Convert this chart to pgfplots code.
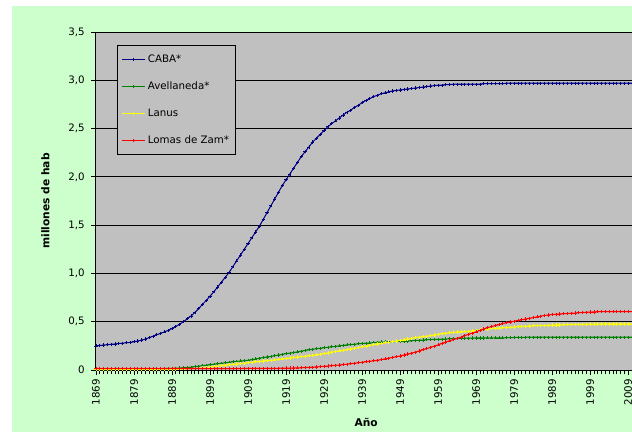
\documentclass[border=0pt]{standalone}
\usepackage{fontspec}
\setmainfont{DejaVu Sans}
\usepackage{pgfplots}
\usepackage{pgfplotstable}
\pgfplotsset{compat=1.18}
\definecolor{bggreen}{RGB}{204,255,204}
\definecolor{plotgrey}{RGB}{192,192,192}
\definecolor{cabacol}{RGB}{0,0,128}
\definecolor{avecol}{RGB}{0,128,0}
\definecolor{lanuscol}{RGB}{255,255,0}
\definecolor{lomascol}{RGB}{255,0,0}
\pgfplotstableread{
year caba avel lanus lomas
1869 0.250 0.010 0.005 0.015
1870 0.254 0.010 0.005 0.015
1871 0.258 0.010 0.005 0.015
1872 0.262 0.010 0.005 0.015
1873 0.266 0.010 0.005 0.015
1874 0.270 0.011 0.006 0.015
1875 0.274 0.011 0.006 0.015
1876 0.278 0.011 0.006 0.015
1877 0.282 0.012 0.006 0.015
1878 0.286 0.012 0.007 0.015
1879 0.292 0.012 0.007 0.015
1880 0.300 0.013 0.007 0.015
1881 0.310 0.013 0.008 0.015
1882 0.320 0.013 0.008 0.015
1883 0.335 0.014 0.008 0.015
1884 0.350 0.014 0.009 0.015
1885 0.365 0.015 0.009 0.015
1886 0.380 0.015 0.009 0.015
1887 0.395 0.016 0.010 0.015
1888 0.410 0.017 0.010 0.015
1889 0.430 0.018 0.010 0.015
1890 0.450 0.019 0.011 0.015
1891 0.475 0.021 0.012 0.015
1892 0.500 0.023 0.012 0.015
1893 0.530 0.025 0.013 0.015
1894 0.560 0.030 0.014 0.015
1895 0.595 0.035 0.015 0.015
1896 0.635 0.040 0.017 0.015
1897 0.680 0.045 0.020 0.015
1898 0.720 0.050 0.025 0.015
1899 0.765 0.055 0.030 0.015
1900 0.810 0.060 0.035 0.015
1901 0.860 0.065 0.040 0.015
1902 0.910 0.070 0.045 0.015
1903 0.960 0.075 0.050 0.015
1904 1.010 0.080 0.054 0.015
1905 1.070 0.085 0.058 0.015
1906 1.130 0.089 0.062 0.015
1907 1.190 0.093 0.066 0.015
1908 1.250 0.097 0.070 0.016
1909 1.310 0.100 0.075 0.016
1910 1.370 0.107 0.080 0.016
1911 1.430 0.115 0.085 0.016
1912 1.490 0.122 0.089 0.016
1913 1.560 0.130 0.093 0.016
1914 1.630 0.135 0.097 0.017
1915 1.700 0.140 0.100 0.017
1916 1.770 0.148 0.105 0.017
1917 1.840 0.155 0.110 0.018
1918 1.910 0.162 0.115 0.019
1919 1.970 0.170 0.120 0.020
1920 2.030 0.175 0.125 0.020
1921 2.090 0.180 0.130 0.021
1922 2.150 0.188 0.134 0.022
1923 2.210 0.195 0.138 0.023
1924 2.260 0.202 0.143 0.025
1925 2.310 0.210 0.147 0.027
1926 2.360 0.215 0.152 0.030
1927 2.400 0.220 0.157 0.032
1928 2.440 0.225 0.163 0.035
1929 2.480 0.230 0.170 0.038
1930 2.520 0.235 0.177 0.041
1931 2.550 0.240 0.185 0.045
1932 2.580 0.245 0.191 0.048
1933 2.610 0.250 0.198 0.052
1934 2.640 0.255 0.204 0.056
1935 2.670 0.260 0.210 0.060
1936 2.690 0.263 0.217 0.065
1937 2.720 0.267 0.225 0.070
1938 2.740 0.271 0.232 0.075
1939 2.770 0.275 0.240 0.080
1940 2.790 0.278 0.247 0.085
1941 2.810 0.280 0.255 0.090
1942 2.830 0.284 0.262 0.095
1943 2.845 0.287 0.270 0.100
1944 2.860 0.289 0.276 0.108
1945 2.870 0.290 0.283 0.115
1946 2.880 0.292 0.289 0.122
1947 2.890 0.293 0.295 0.130
1948 2.895 0.295 0.300 0.137
1949 2.900 0.297 0.305 0.145
1950 2.905 0.299 0.312 0.155
1951 2.910 0.300 0.320 0.165
1952 2.915 0.303 0.328 0.175
1953 2.920 0.305 0.335 0.185
1954 2.925 0.308 0.340 0.197
1955 2.930 0.310 0.345 0.210
1956 2.935 0.313 0.350 0.222
1957 2.940 0.315 0.355 0.235
1958 2.945 0.317 0.362 0.247
1959 2.950 0.318 0.370 0.260
1960 2.950 0.319 0.375 0.275
1961 2.955 0.320 0.380 0.290
1962 2.955 0.323 0.385 0.302
1963 2.960 0.325 0.390 0.315
1964 2.960 0.327 0.393 0.327
1965 2.960 0.328 0.395 0.340
1966 2.960 0.329 0.398 0.355
1967 2.960 0.330 0.400 0.370
1968 2.960 0.331 0.405 0.382
1969 2.960 0.332 0.410 0.395
1970 2.960 0.332 0.415 0.410
1971 2.965 0.332 0.420 0.425
1972 2.965 0.333 0.425 0.438
1973 2.965 0.333 0.430 0.450
1974 2.965 0.333 0.433 0.460
1975 2.965 0.333 0.435 0.470
1976 2.965 0.333 0.438 0.480
1977 2.970 0.334 0.440 0.490
1978 2.970 0.334 0.443 0.498
1979 2.970 0.338 0.445 0.505
1980 2.970 0.339 0.448 0.512
1981 2.970 0.339 0.452 0.520
1982 2.970 0.339 0.454 0.528
1983 2.970 0.340 0.456 0.535
1984 2.970 0.340 0.458 0.542
1985 2.970 0.340 0.460 0.550
1986 2.970 0.340 0.461 0.558
1987 2.970 0.340 0.462 0.565
1988 2.970 0.340 0.464 0.570
1989 2.970 0.340 0.465 0.575
1990 2.970 0.340 0.466 0.578
1991 2.970 0.340 0.467 0.580
1992 2.970 0.340 0.469 0.583
1993 2.970 0.340 0.470 0.585
1994 2.970 0.340 0.471 0.588
1995 2.970 0.340 0.472 0.590
1996 2.970 0.340 0.473 0.593
1997 2.970 0.340 0.474 0.595
1998 2.970 0.340 0.475 0.598
1999 2.970 0.340 0.476 0.600
2000 2.970 0.340 0.476 0.601
2001 2.970 0.340 0.476 0.603
2002 2.970 0.340 0.477 0.604
2003 2.970 0.340 0.477 0.605
2004 2.970 0.340 0.477 0.605
2005 2.970 0.340 0.477 0.605
2006 2.970 0.340 0.477 0.605
2007 2.970 0.340 0.477 0.605
2008 2.970 0.340 0.477 0.605
2009 2.970 0.340 0.477 0.605
2010 2.970 0.340 0.477 0.605
}\data
\begin{document}
\begin{tikzpicture}
\fill[white] (-72pt,-46.5pt) rectangle (402pt,277.5pt);
\fill[bggreen] (-63pt,-46.5pt) rectangle (402pt,273pt);
\begin{axis}[
  at={(0pt,0pt)}, anchor=south west,
  scale only axis, width=402pt, height=253.5pt,
  xmin=1869, xmax=2010, ymin=0, ymax=3.5,
  axis background/.style={fill=plotgrey},
  axis lines=left, axis line style={-, black, line width=0.75pt},
  /pgf/number format/assume math mode=true,
  ytick={0,0.5,...,3.5},
  yticklabels={0,{0,5},{1,0},{1,5},{2,0},{2,5},{3,0},{3,5}},
  ymajorgrids, major grid style={black, line width=0.75pt},
  xtick={1869,1879,...,2009},
  xticklabels={1869,1879,1889,1899,1909,1919,1929,1939,1949,1959,1969,1979,1989,1999,2009},
  minor xtick={1869,...,2010},
  tick align=outside,
  major tick length=3.5pt, minor tick length=3pt,
  tick style={black, line width=0.6pt},
  x tick label style={rotate=90, anchor=east, font=\fontsize{7.7}{9}\selectfont},
  y tick label style={font=\fontsize{7.7}{9}\selectfont, xshift=-1.5pt},
  xlabel={\textbf{Año}}, ylabel={\textbf{millones de hab}},
  x label style={at={(axis description cs:0.504,0)}, anchor=center, yshift=-39.5pt, font=\fontsize{8}{10}\selectfont},
  y label style={at={(axis description cs:0,0.5)}, anchor=center, yshift=38pt, font=\fontsize{8}{10}\selectfont},
  legend style={at={(axis description cs:0.0392,0.9615)}, anchor=north west,
    fill=plotgrey, draw=black, line width=0.6pt, font=\fontsize{7.7}{9}\selectfont,
    row sep=9pt, inner ysep=5pt, inner xsep=3pt},
  legend cell align=left,
  every axis plot/.append style={line width=0.75pt, mark=+, mark size=1.2pt, mark options={solid, line width=0.5pt}},
]
\addplot[cabacol] table[x=year,y=caba]{\data};
\addplot[avecol] table[x=year,y=avel]{\data};
\addplot[lanuscol] table[x=year,y=lanus]{\data};
\addplot[lomascol] table[x=year,y=lomas]{\data};
\legend{CABA*, Avellaneda*, Lanus, Lomas de Zam*}
\end{axis}
\pgfresetboundingbox
\path (-72pt,-46.5pt) rectangle (402pt,277.5pt);
\end{tikzpicture}
\end{document}
